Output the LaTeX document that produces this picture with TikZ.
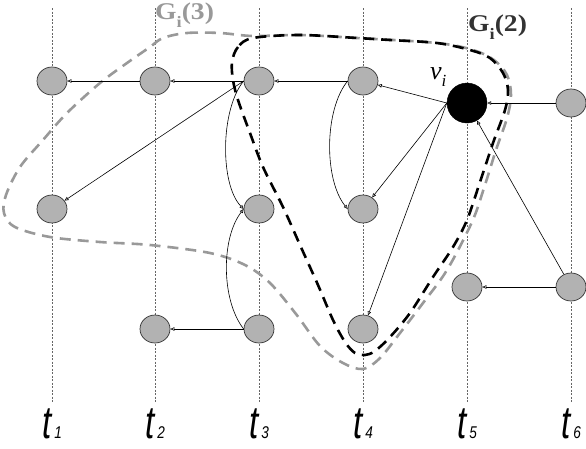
\documentclass[tikz,border=0pt]{standalone}
\usepackage{fontspec}
\setmainfont{Liberation Serif}
\newfontfamily\tfont{Liberation Sans}
\usetikzlibrary{shapes.geometric,arrows.meta}
\begin{document}
\begin{tikzpicture}[x=1pt,y=-1pt,
 vnode/.style={ellipse,draw=black!80,line width=0.7pt,fill=black!30,minimum width=30pt,minimum height=28pt,inner sep=0pt},
 vline/.style={draw=black!60,line width=0.6pt,dash pattern=on 2pt off 1.5pt},
 edge/.style={draw=black,line width=0.6pt,-{Triangle[open,length=4pt,width=3.5pt]}},
 gtwo/.style={draw=black,line width=2.6pt,dash pattern=on 11pt off 7pt},
 gthree/.style={draw=black!40,line width=2.6pt,dash pattern=on 11pt off 7pt},
 tlab/.style={anchor=base,inner sep=0pt},
]
\useasboundingbox (0,0) rectangle (586,448);
% time lines
\foreach \x in {52,155,259,363,467,571} \draw[vline] (\x,8) -- (\x,402);
% G_i(3)
\draw[gthree] plot[smooth cycle,tension=0.55] coordinates {
 (163,38) (187,33) (220,33) (253,36) (300,35) (357,38) (437,43) (473,50) (494,60) (507,75) (511,95) (507,118) (496,150) (484,188) (472,222) (447,270) (423,303) (400,333) (380,358) (363,369) (343,363) (320,346) (296,314) (270,283) (245,265) (210,253) (150,245) (100,242) (50,237) (15,227) (4,213) (6,195) (20,167) (43,140) (67,113) (100,83) (127,63) (150,47)};
% G_i(2)
\draw[gtwo] plot[smooth cycle,tension=0.55] coordinates {
 (253,38) (238,47) (232,62) (233,80) (238,100) (250,133) (263,167) (283,207) (300,245) (318,285) (333,320) (345,342) (355,353) (365,355) (375,351) (390,337) (410,313) (433,277) (453,247) (467,220) (480,182) (493,143) (505,110) (508,90) (503,73) (490,58) (470,50) (437,43) (390,40) (357,38) (300,35)};
% nodes
\node[vnode] (A1) at (52,81) {};
\node[vnode] (A2) at (155,81) {};
\node[vnode] (A3) at (259,81) {};
\node[vnode] (A4) at (363,81) {};
\node[circle,fill=black,draw=black,minimum size=40pt,inner sep=0pt] (vi) at (467,103) {};
\node[vnode] (A6) at (571,103) {};
\node[vnode] (B1) at (52,209) {};
\node[vnode] (B3) at (259,209) {};
\node[vnode] (B4) at (363,209) {};
\node[vnode] (C5) at (467,287) {};
\node[vnode] (C6) at (571,287) {};
\node[vnode] (D2) at (155,329) {};
\node[vnode] (D3) at (259,329) {};
\node[vnode] (D4) at (363,329) {};
% edges
\draw[edge] (A2) -- (A1);
\draw[edge] (A3) -- (A2);
\draw[edge] (A4) -- (A3);
\draw[edge] (vi.west) -- (A4);
\draw[edge] (A6) -- (vi);
\draw[edge] (A3.west) -- (B1);
\draw[edge] (A3.west) .. controls (220,110) and (220,185) .. (B3.west);
\draw[edge] (D3.west) .. controls (221,300) and (221,238) .. (B3.west);
\draw[edge] (D3) -- (D2);
\draw[edge] (A4.west) .. controls (324,110) and (324,180) .. (B4.west);
\draw[edge] (vi.west) -- (B4);
\draw[edge] (vi.west) -- (D4);
\draw[edge] (C6) -- (vi);
\draw[edge] (C6) -- (C5);
% labels
\node[anchor=base west,inner sep=0pt,text=black!40] (L3) at (155,19) {\scalebox{1.15}[1]{\fontsize{24}{24}\selectfont\bfseries G\raisebox{-8pt}{\fontsize{16}{16}\selectfont i}(3)}};
\node[anchor=base west,inner sep=0pt,text=black!80] (L2) at (468,31) {\scalebox{1.15}[1]{\fontsize{24}{24}\selectfont\bfseries G\raisebox{-8pt}{\fontsize{16}{16}\selectfont i}(2)}};
\node[anchor=base west,inner sep=0pt] (Lv) at (430,79) {\fontsize{26}{26}\selectfont\itshape v\raisebox{-7pt}{\fontsize{17}{17}\selectfont i}};
\foreach \x/\n in {52/1,155/2,259/3,363/4,467/5,571/6}
 \node[tlab] (t\n) at (\x,438) {\tfont\itshape\scalebox{0.72}[1]{\fontsize{46}{46}\selectfont t}\hspace{3pt}\scalebox{0.8}[1]{\fontsize{17}{17}\selectfont \n}};
\end{tikzpicture}
\end{document}
